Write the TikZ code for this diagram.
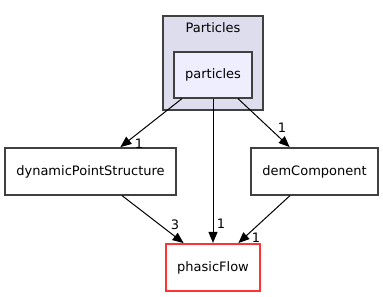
\documentclass[tikz,border=0pt]{standalone}
\usepackage{fontspec}
\setmainfont{DejaVu Sans}
\usetikzlibrary{arrows.meta,calc}
\definecolor{clusterfill}{HTML}{DDDDEE}
\definecolor{dirfill}{HTML}{EEEEFF}
\definecolor{boxline}{HTML}{404040}
\definecolor{redline}{HTML}{FF3333}
\tikzset{
  x=1pt, y=-1pt,
  box/.style={draw=boxline, line width=1.2pt, fill=white, inner sep=0pt, font=\fontsize{13}{15}\selectfont},
  dep/.style={draw=black, line width=1pt, -{Triangle[length=11pt,width=9pt]}, shorten >=0.5pt},
  lbl/.style={font=\fontsize{13}{15}\selectfont, inner sep=0pt}
}
\begin{document}
\begin{tikzpicture}
\useasboundingbox (0,0) rectangle (383,297);
% outer directory cluster
\draw[draw=boxline, line width=1.2pt, fill=clusterfill] (163,16) rectangle (263,110);
\node[lbl] (ctitle) at (213,28) {Particles};
% directory nodes
\node[box, fill=dirfill, minimum width=78pt, minimum height=46pt] (particles) at (213,75) {particles};
\node[box, minimum width=171pt, minimum height=47pt] (dps) at (90.5,171.5) {dynamicPointStructure};
\node[box, minimum width=127pt, minimum height=47pt] (dem) at (314.5,171.5) {demComponent};
\node[box, draw=redline, minimum width=94pt, minimum height=47pt] (pf) at (213,267.5) {phasicFlow};
% dependencies
\draw[dep] ($(particles.south)+(-31,0)$) -- ($(dps.north)+(29.5,0)$)
  node[lbl, pos=1, xshift=19pt, yshift=4pt] (l1) {1};
\draw[dep] (particles.south) -- (pf.north)
  node[lbl, pos=1, xshift=8pt, yshift=20pt] (l2) {1};
\draw[dep] ($(particles.south)+(25,0)$) -- ($(dem.north)+(-24.5,0)$)
  node[lbl, pos=1, xshift=-8pt, yshift=20pt] (l3) {1};
\draw[dep] ($(dps.south)+(31.5,0)$) -- ($(pf.north)+(-29,0)$)
  node[lbl, pos=1, xshift=-9pt, yshift=19pt] (l4) {3};
\draw[dep] ($(dem.south)+(-24.5,0)$) -- ($(pf.north)+(25,0)$)
  node[lbl, pos=1, xshift=18pt, yshift=6pt] (l5) {1};
\end{tikzpicture}
\end{document}
